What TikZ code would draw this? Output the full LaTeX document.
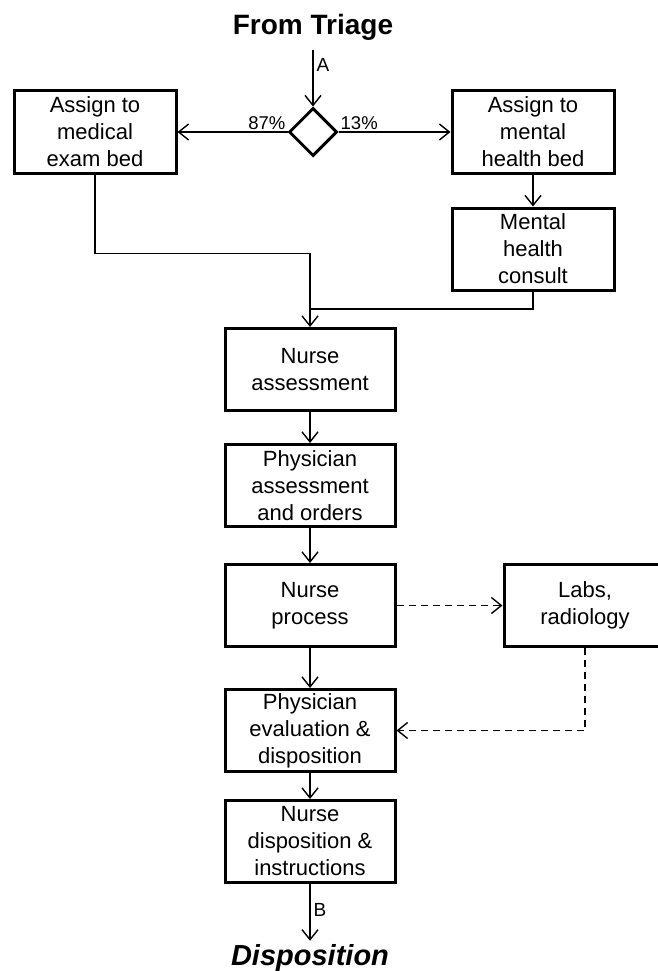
\documentclass[tikz,border=0pt]{standalone}
\usepackage{fontspec}
\setmainfont{Liberation Sans}
\usetikzlibrary{shapes.geometric, arrows.meta, positioning}
\tikzset{box/.style={draw, rectangle, line width=3pt, minimum width=170pt, minimum height=82pt,
            inner sep=2pt, align=center, font=\fontsize{22}{27}\selectfont},
         sidebox/.style={box, minimum width=162pt},
         decision/.style={draw, diamond, line width=3pt, minimum width=48pt, minimum height=48pt, inner sep=0pt},
         title/.style={anchor=base, inner sep=6pt, font=\fontsize{28}{30}\selectfont\bfseries},
         lbl/.style={inner sep=1.5pt, font=\fontsize{18.5}{20}\selectfont},
         tag/.style={inner sep=3pt, font=\fontsize{19}{20}\selectfont},
         conn/.style={line width=1.4pt, -{Straight Barb[length=10pt,width=16pt]}},
         link/.style={line width=1.4pt}}

\begin{document}
\begin{tikzpicture}[x=1pt, y=-1pt, node distance=34pt]
    \useasboundingbox (0,0) rectangle (657,971);
    \node[title] (triage) at (313,35) {From Triage};
    \node[decision] (dec) at (313,132) {};
    \node[sidebox] (med) at (95,132) {Assign to\\medical\\exam bed};
    \node[sidebox] (mhb) at (533,132) {Assign to\\mental\\health bed};
    \node[sidebox, below=32pt of mhb] (mhc) {Mental\\health\\consult};
    \node[box] (na) at (310,369.5) {Nurse\\assessment};
    \node[box, below=31pt of na] (pa) {Physician\\assessment\\and orders};
    \node[box, below=35pt of pa] (np) {Nurse\\process};
    \node[sidebox, right=106pt of np] (labs) {Labs,\\radiology};
    \node[box, below=40pt of np] (pe) {Physician\\evaluation \&\\disposition};
    \node[box, below=26pt of pe] (nd) {Nurse\\disposition \&\\instructions};
    \node[title, inner sep=3pt, font=\fontsize{29}{31}\selectfont\bfseries\itshape] (disp) at (310,965) {Disposition};

    \draw[conn, shorten <=3pt] (triage) -- node[tag, right, pos=0.3] {A} (dec);
    \draw[conn] (dec.west) -- node[lbl, pos=0, anchor=south east] {87\%} (med.east);
    \draw[conn] (dec.east) -- node[lbl, pos=0, anchor=south west] {13\%} (mhb.west);
    \draw[conn] (mhb) -- (mhc);
    \draw[conn] (med.south) -- ++(0,79) -| (na.north);
    \draw[link] (mhc.south) |- ([yshift=18pt]na.north);
    \draw[conn] (na) -- (pa);
    \draw[conn] (pa) -- (np);
    \draw[conn] (np) -- (pe);
    \draw[conn] (pe) -- (nd);
    \draw[conn, dash pattern=on 7pt off 5pt] (np) -- (labs);
    \draw[conn, dash pattern=on 7pt off 5pt] (labs.south) |- (pe.east);
    \draw[conn] (nd) -- node[tag, right, pos=0.46] {B} (disp);
\end{tikzpicture}
\end{document}
